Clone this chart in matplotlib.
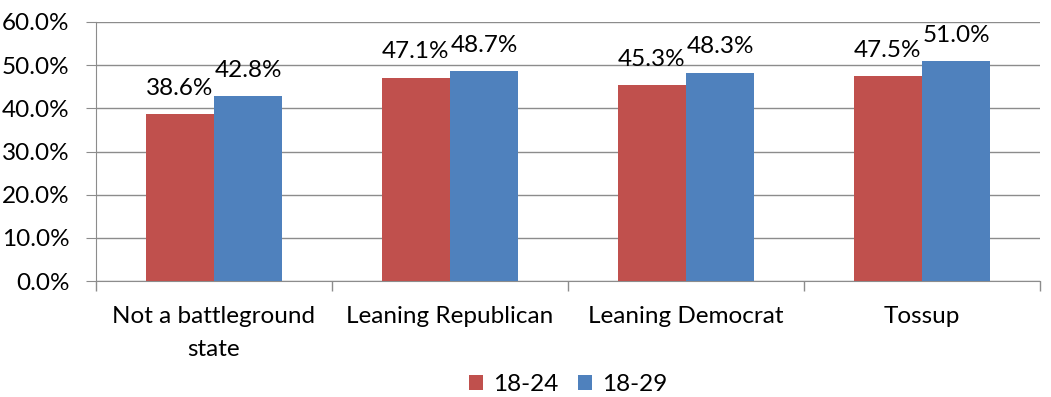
import matplotlib.pyplot as plt
import numpy as np
from matplotlib.ticker import FuncFormatter, FixedLocator

categories = ["Not a battleground\nstate", "Leaning Republican", "Leaning Democrat", "Tossup"]
series_names = ["18-24", "18-29"]
vals_1824 = [38.6, 47.1, 45.3, 47.5]
vals_1829 = [42.8, 48.7, 48.3, 51.0]
colors = ["#C0504D", "#4F81BD"]

plt.rcParams['font.family'] = ['Lato', 'DejaVu Sans']
fs = 17.5
fig = plt.figure(figsize=(10.51, 3.97), dpi=100)
ax = fig.add_axes([0.0913, 0.292, 0.8982, 0.6526])

x = np.arange(len(categories))
w = 0.29
b1 = ax.bar(x - w/2, vals_1824, w, color=colors[0], label=series_names[0], zorder=3)
b2 = ax.bar(x + w/2, vals_1829, w, color=colors[1], label=series_names[1], zorder=3)
for bars in (b1, b2):
    for r in bars:
        ax.annotate("%.1f%%" % r.get_height(), (r.get_x() + r.get_width()/2, r.get_height()),
                    xytext=(0, 11), textcoords="offset points", ha="center", va="bottom",
                    fontsize=fs, color="#000000", zorder=4)

ax.set_ylim(0, 60)
ax.set_xlim(-0.5, len(categories) - 0.5)
ax.set_yticks(np.arange(0, 61, 10))
ax.yaxis.set_major_formatter(FuncFormatter(lambda v, p: "%.1f%%" % v))
ax.yaxis.grid(True, color="#8c8c8c", linewidth=1, zorder=0)
ax.set_xticks(x)
ax.set_xticklabels(categories, linespacing=1.7)
ax.xaxis.set_minor_locator(FixedLocator(np.arange(-0.5, len(categories), 1)))
ax.tick_params(axis="x", which="major", length=0, pad=18, labelsize=fs)
ax.tick_params(axis="x", which="minor", length=7, color="#8c8c8c", width=1)
ax.tick_params(axis="y", length=7, color="#8c8c8c", labelsize=fs, pad=12)
for s in ("top", "right"):
    ax.spines[s].set_visible(False)
for s in ("left", "bottom"):
    ax.spines[s].set_color("#8c8c8c")

leg = ax.legend(loc="center", bbox_to_anchor=(0.5, -0.40), ncol=2, frameon=False,
                fontsize=fs, handlelength=0.6, handleheight=0.6, handletextpad=0.4,
                columnspacing=0.8, borderpad=0)

fig.savefig("out.png", dpi=100)
